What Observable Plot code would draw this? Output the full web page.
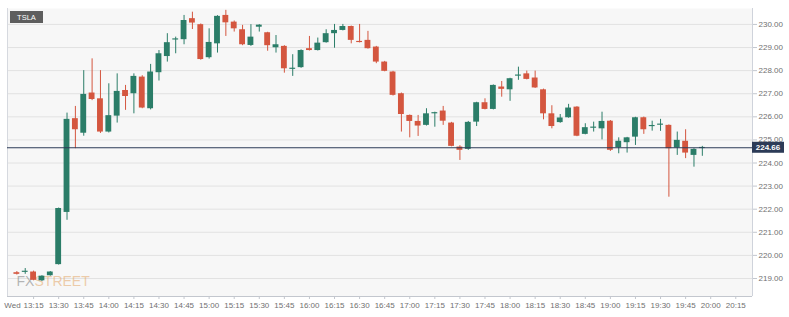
<!DOCTYPE html>
<html><head><meta charset="utf-8">
<script src="https://cdn.jsdelivr.net/npm/d3@7"></script>
<script src="https://cdn.jsdelivr.net/npm/@observablehq/plot@0.6"></script>
<style>
html,body{margin:0;padding:0;background:#fff;}
#chart{width:789px;height:317px;overflow:hidden;}
</style></head><body><div id="chart"></div>
<script>
const symbol = "TSLA";
const lastPrice = 224.66;
const times = ["13:05","13:10","13:15","13:20","13:25","13:30","13:35","13:40","13:45","13:50","13:55",
"14:00","14:05","14:10","14:15","14:20","14:25","14:30","14:35","14:40","14:45","14:50","14:55",
"15:00","15:05","15:10","15:15","15:20","15:25","15:30","15:35","15:40","15:45","15:50","15:55",
"16:00","16:05","16:10","16:15","16:20","16:25","16:30","16:35","16:40","16:45","16:50","16:55",
"17:00","17:05","17:10","17:15","17:20","17:25","17:30","17:35","17:40","17:45","17:50","17:55",
"18:00","18:05","18:10","18:15","18:20","18:25","18:30","18:35","18:40","18:45","18:50","18:55",
"19:00","19:05","19:10","19:15","19:20","19:25","19:30","19:35","19:40","19:45","19:50","19:55"];
const open = [219.25,219.28,219.28,218.90,219.12,219.60,221.86,225.92,225.29,227.03,226.78,
225.34,226.03,227.14,227.00,227.72,226.35,227.91,228.61,229.33,229.34,230.25,229.99,
228.56,229.16,230.39,230.10,229.77,229.09,229.88,229.64,228.99,229.05,228.07,228.13,
228.95,228.87,229.21,229.60,229.74,229.91,229.26,229.31,229.02,228.37,227.94,227.00,
226.06,225.80,225.63,226.13,226.25,225.73,224.69,224.59,225.77,226.61,226.32,227.29,
227.17,227.77,227.86,227.68,227.17,226.13,225.75,225.96,226.42,225.24,225.52,225.48,
225.81,224.66,224.88,225.12,225.96,225.59,225.65,225.63,224.65,224.94,224.33,224.64];
const high = [219.30,219.43,219.32,219.12,219.30,222.05,226.16,226.45,228.00,228.51,228.00,
227.43,227.86,227.36,227.86,227.78,228.27,228.87,229.60,229.45,230.39,230.53,230.02,
229.81,230.38,230.61,230.15,229.96,229.99,229.99,229.66,229.52,229.08,228.69,228.90,
229.48,229.41,229.77,230.00,230.00,229.93,230.00,229.70,229.05,228.40,227.97,227.03,
226.08,226.06,226.35,226.20,226.45,225.76,224.75,225.80,226.63,226.78,227.38,227.53,
227.67,228.15,227.98,227.98,227.20,226.48,226.10,226.54,226.44,225.70,225.77,226.20,
225.84,225.09,225.11,225.98,225.99,225.81,225.89,225.65,225.34,225.44,224.62,224.72];
const low = [219.15,219.18,218.90,218.87,219.10,219.58,221.52,224.62,225.16,226.70,225.28,
225.30,225.73,226.28,226.13,226.35,226.30,227.55,228.37,228.73,229.12,229.78,228.45,
228.50,228.76,229.48,229.67,229.08,229.05,229.67,228.84,228.76,227.89,227.75,228.10,
228.85,228.85,229.19,228.97,229.72,229.16,229.20,228.93,228.30,227.95,226.90,225.34,
225.09,225.15,225.60,225.55,225.63,224.70,224.11,224.55,225.58,226.30,226.30,226.85,
226.67,227.58,227.60,227.23,225.87,225.48,225.72,225.94,225.14,225.22,225.34,225.00,
224.50,224.40,224.43,224.76,225.24,225.38,225.37,222.52,224.33,224.19,223.82,224.29];
const close = [219.18,219.30,218.92,219.10,219.28,222.03,225.89,225.44,226.97,226.75,225.34,
226.05,227.10,226.88,227.75,226.38,227.94,228.73,229.21,229.37,230.17,230.06,228.48,
229.22,230.35,230.07,229.81,229.12,229.45,229.97,229.08,229.12,228.08,228.09,228.87,
228.87,229.19,229.60,229.74,229.91,229.31,229.22,228.95,228.37,227.97,226.93,226.10,
225.80,225.60,226.13,226.18,225.81,224.72,224.55,225.76,226.61,226.32,227.36,227.19,
227.65,227.80,227.62,227.25,226.13,225.58,225.95,226.38,225.16,225.53,225.54,225.80,
224.55,224.94,225.09,225.96,225.44,225.61,225.67,224.62,224.98,224.43,224.59,224.66];
const yTicks = [219,220,221,222,223,224,225,226,227,228,229,230];
const xTickTimes = ["13:00","13:15","13:30","13:45","14:00","14:15","14:30","14:45","15:00","15:15","15:30","15:45",
"16:00","16:15","16:30","16:45","17:00","17:15","17:30","17:45","18:00","18:15","18:30","18:45",
"19:00","19:15","19:30","19:45","20:00","20:15"];
const xTickLabels = ["Wed","13:15","13:30","13:45","14:00","14:15","14:30","14:45","15:00","15:15","15:30","15:45",
"16:00","16:15","16:30","16:45","17:00","17:15","17:30","17:45","18:00","18:15","18:30","18:45",
"19:00","19:15","19:30","19:45","20:00","20:15"];
const watermarkParts = ["FX", "STREET"];

const day = "2018-01-03";
const toDate = t => new Date(`${day}T${t}:00Z`);
const MIN = 60000;
const UP = "#2b7d68", DOWN = "#d4563f";

const data = times.map((t, i) => {
  const o = open[i], c = close[i];
  let lo = Math.min(o, c), hi = Math.max(o, c);
  if (hi - lo < 0.05) { const m = (hi + lo) / 2; lo = m - 0.025; hi = m + 0.025; }
  return {date: toDate(t), open: o, high: high[i], low: low[i], close: c, bLo: lo, bHi: hi, up: c >= o};
});
const ups = data.filter(d => d.up), downs = data.filter(d => !d.up);
const tickDates = xTickTimes.map(toDate);
const labelOf = new Map(tickDates.map((d, i) => [+d, xTickLabels[i]]));
const xDomain = [new Date(+toDate("13:00") - 0.6 * MIN), toDate("20:25")];
const yDomain = [218.22, 230.69];
const half = 1.75 * MIN;

const priceBox = (index, scales, values, dim) => {
  const g = d3.create("svg:g");
  const y = scales.y(lastPrice);
  const x0 = dim.width - dim.marginRight;
  g.append("rect").attr("x", x0).attr("y", y - 5.5).attr("width", 32).attr("height", 11).attr("fill", "#2c3b57");
  g.append("text").attr("x", x0 + 16).attr("y", y + 3).attr("text-anchor", "middle")
    .attr("fill", "#fff").attr("font-size", 8).attr("font-weight", "bold").text(lastPrice.toFixed(2));
  return g.node();
};
const symbolBox = (index, scales, values, dim) => {
  const g = d3.create("svg:g");
  g.append("rect").attr("x", dim.marginLeft + 3).attr("y", dim.marginTop + 3).attr("width", 33).attr("height", 12).attr("fill", "#5e5e5e");
  g.append("text").attr("x", dim.marginLeft + 19.5).attr("y", dim.marginTop + 12).attr("text-anchor", "middle")
    .attr("fill", "#fff").attr("font-size", 7.5).text(symbol);
  return g.node();
};
const wmFont = "'Liberation Sans Narrow','Liberation Sans',sans-serif";

const chart = Plot.plot({
  width: 789, height: 317,
  marginTop: 8, marginBottom: 21, marginLeft: 7, marginRight: 37,
  style: {fontFamily: "'Liberation Sans', Arial, sans-serif", fontSize: "8px", color: "#707070", background: "#fff"},
  x: {type: "utc", domain: xDomain},
  y: {domain: yDomain},
  marks: [
    Plot.frame({fill: "#f7f7f7", stroke: null}),
    Plot.gridY(yTicks, {stroke: "#e2e2e2", strokeOpacity: 1}),
    Plot.ruleX([xDomain[0]], {stroke: "#d6d9df"}),
    Plot.ruleX([xDomain[1]], {stroke: "#cfd3db"}),
    Plot.ruleY([yDomain[0]], {stroke: "#c3c7ce"}),
    Plot.axisY({anchor: "right", ticks: yTicks, tickFormat: d => d.toFixed(2), tickSize: 4, tickPadding: 2, label: null, stroke: "#c3c7ce"}),
    Plot.axisX({ticks: tickDates.slice(1), tickFormat: d => labelOf.get(+d), tickSize: 3, tickPadding: 3, label: null, stroke: "#c3c7ce"}),
    Plot.axisX({ticks: tickDates.slice(0, 1), tickFormat: d => labelOf.get(+d), tickSize: 0, tickPadding: 6, dx: 4, label: null}),
    Plot.text([watermarkParts[0]], {text: d => d, frameAnchor: "bottom-left", textAnchor: "start", lineAnchor: "bottom", dx: 9, dy: -11,
      fontSize: 14, fontFamily: wmFont, fill: "#7a7a7a", fillOpacity: 0.55}),
    Plot.text([watermarkParts[1]], {text: d => d, frameAnchor: "bottom-left", textAnchor: "start", lineAnchor: "bottom", dx: 27, dy: -11,
      fontSize: 14, fontFamily: wmFont, fill: "#e3a566", fillOpacity: 0.55}),
    Plot.ruleX(ups, {x: "date", y1: "low", y2: "high", stroke: UP, strokeWidth: 1}),
    Plot.ruleX(downs, {x: "date", y1: "low", y2: "high", stroke: DOWN, strokeWidth: 1}),
    Plot.rect(ups, {x1: d => new Date(+d.date - half), x2: d => new Date(+d.date + half), y1: "bLo", y2: "bHi", fill: UP}),
    Plot.rect(downs, {x1: d => new Date(+d.date - half), x2: d => new Date(+d.date + half), y1: "bLo", y2: "bHi", fill: DOWN}),
    Plot.ruleY([lastPrice], {stroke: "#2c3b57", strokeWidth: 1.2}),
    symbolBox,
    priceBox
  ]
});
document.getElementById("chart").appendChild(chart);
</script>
</body></html>
